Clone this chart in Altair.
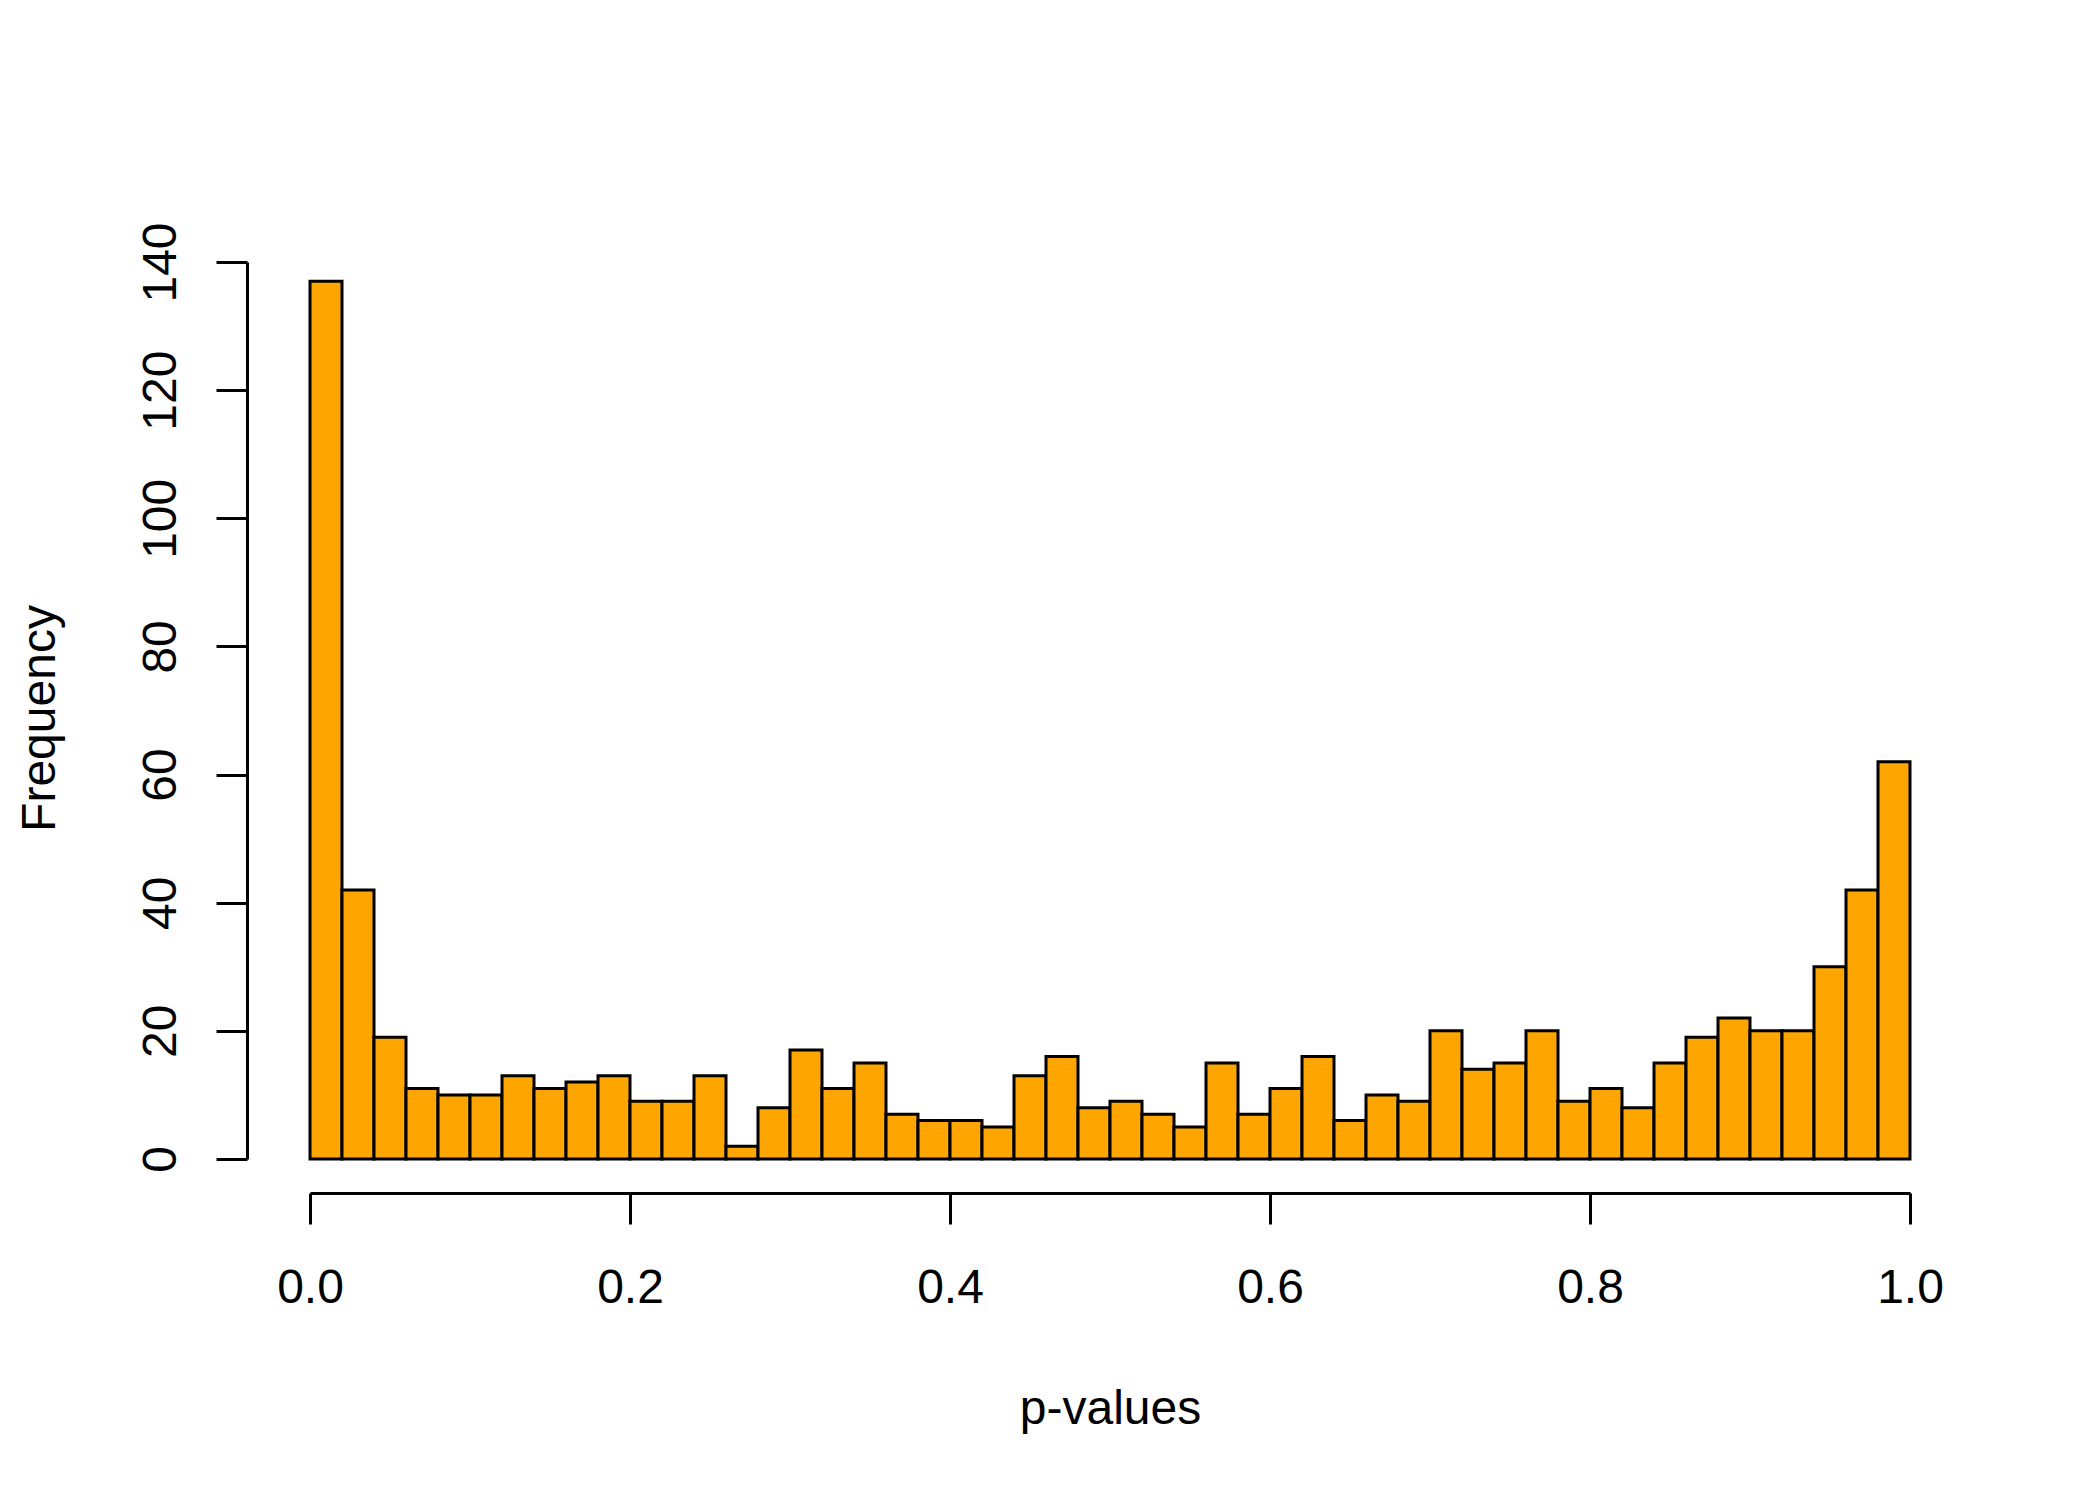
import altair as alt
import pandas as pd

# histogram counts, 50 bins of width 0.02 over [0, 1]
counts = [137, 42, 19, 11, 10, 10, 13, 11, 12, 13,
          9, 9, 13, 2, 8, 17, 11, 15, 7, 6,
          6, 5, 13, 16, 8, 9, 7, 5, 15, 7,
          11, 16, 6, 10, 9, 20, 14, 15, 20, 9,
          11, 8, 15, 19, 22, 20, 20, 30, 42, 62]
bin_width = 0.02
x_ticks = [0.0, 0.2, 0.4, 0.6, 0.8, 1.0]
y_ticks = [0, 20, 40, 60, 80, 100, 120, 140]

df = pd.DataFrame({
    "start": [round(i * bin_width, 2) for i in range(len(counts))],
    "end": [round((i + 1) * bin_width, 2) for i in range(len(counts))],
    "count": counts,
})

FONT = "Liberation Sans"
FS = 48

bars = alt.Chart(df).mark_rect(
    fill="#FFA500", stroke="black", strokeWidth=3
).encode(
    x=alt.X("start:Q",
            scale=alt.Scale(domain=[0, 1], nice=False, zero=False),
            axis=alt.Axis(values=x_ticks, format=".1f", title="p-values",
                          offset=34, labelPadding=40, labelBaseline="top",
                          labelFlush=False, labelOverlap=False,
                          titleBaseline="alphabetic", titleY=230)),
    x2="end:Q",
    y=alt.Y("count:Q",
            scale=alt.Scale(domain=[0, 140], nice=False, zero=True),
            axis=alt.Axis(values=y_ticks, title="Frequency",
                          offset=63, labelAngle=-90, labelAlign="center",
                          labelBaseline="alphabetic", labelPadding=41,
                          labelFlush=False, labelOverlap=False,
                          titleAngle=-90, titleAlign="center",
                          titleBaseline="alphabetic",
                          titleX=-193, titleY=456)),
    y2=alt.datum(0),
)

chart = bars.properties(
    width=1600, height=897,
    autosize=alt.AutoSizeParams(type="none"),
    padding={"left": 310, "top": 262, "right": 190, "bottom": 341},
    background="white",
).configure_view(stroke=None).configure_axis(
    grid=False,
    domainColor="black", domainWidth=3,
    tickColor="black", tickWidth=3, tickSize=31,
    labelFont=FONT, labelFontSize=FS, labelColor="black",
    titleFont=FONT, titleFontSize=FS, titleColor="black",
    titleFontWeight="normal",
)

chart.save("out.html", embed_options={"renderer": "svg", "actions": False})
